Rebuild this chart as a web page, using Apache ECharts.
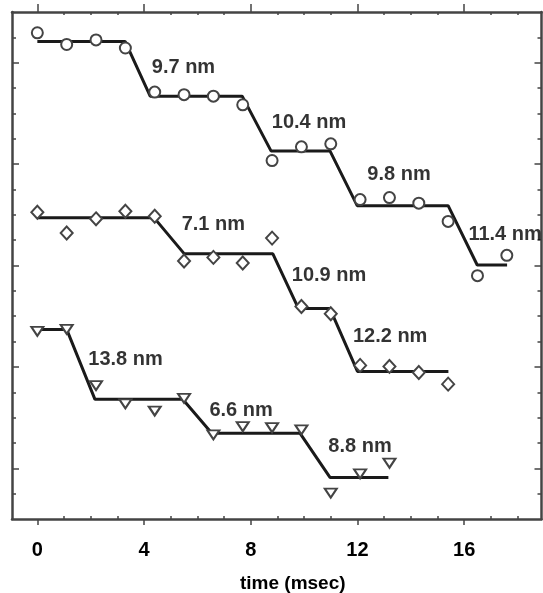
<!DOCTYPE html>
<html>
<head>
<meta charset="utf-8" />
<title>step traces</title>
<script src="https://cdn.jsdelivr.net/npm/echarts@6/dist/echarts.min.js"></script>
<style>
  html, body { margin: 0; padding: 0; background: #fff; }
  #chart { width: 543px; height: 593px; }
</style>
</head>
<body>
<div id="chart"></div>
<script>
// top trace (circles), time in ms and position in nm
var topTime = [0, 1.1, 2.2, 3.3, 4.4, 5.5, 6.6, 7.7, 8.8, 9.9, 11.0, 12.1, 13.2, 14.3, 15.4, 16.5, 17.6];
var topNm = [95.9, 93.6, 94.5, 92.9, 84.2, 83.7, 83.4, 81.7, 70.7, 73.4, 74.0, 63.0, 63.4, 62.3, 58.7, 48.0, 52.0];
var topStepTime = [0, 3.29, 4.23, 7.68, 8.76, 10.97, 11.99, 15.40, 16.49, 17.61];
var topStepNm = [94.2, 94.2, 83.4, 83.4, 72.6, 72.6, 61.8, 61.8, 50.1, 50.1];

// middle trace (diamonds)
var midTime = [0, 1.1, 2.2, 3.3, 4.4, 5.5, 6.6, 7.7, 8.8, 9.9, 11.0, 12.1, 13.2, 14.3, 15.4];
var midNm = [60.5, 56.4, 59.2, 60.7, 59.7, 50.9, 51.6, 50.5, 55.4, 41.9, 40.5, 30.3, 30.1, 28.9, 26.6];
var midStepTime = [0, 4.38, 5.51, 8.83, 9.79, 10.97, 12.0, 15.41];
var midStepNm = [59.4, 59.4, 52.3, 52.3, 41.5, 41.5, 29.1, 29.1];

// bottom trace (triangles)
var botTime = [0, 1.1, 2.2, 3.3, 4.4, 5.5, 6.6, 7.7, 8.8, 9.9, 11.0, 12.1, 13.2];
var botNm = [37.0, 37.4, 26.3, 22.7, 21.3, 23.8, 16.6, 18.2, 18.0, 17.6, 5.1, 8.9, 11.0];
var botStepTime = [0, 1.1, 2.16, 5.45, 6.54, 9.85, 10.97, 13.16];
var botStepNm = [37.4, 37.4, 23.6, 23.6, 16.9, 16.9, 8.2, 8.2];

// step size annotations
var stepLabels = ['9.7 nm', '10.4 nm', '9.8 nm', '11.4 nm', '7.1 nm', '10.9 nm', '12.2 nm', '13.8 nm', '6.6 nm', '8.8 nm'];
var labelTime = [4.29, 8.79, 12.37, 16.16, 5.41, 9.54, 11.83, 1.91, 6.45, 10.91];
var labelNm = [89.0, 78.3, 67.9, 56.2, 58.0, 48.0, 36.0, 31.4, 21.5, 14.3];

// axis ticks
var xMajor = [0, 4, 8, 12, 16];
var xMinor = [1, 2, 3, 5, 6, 7, 9, 10, 11, 13, 14, 15, 17, 18];
var yMajor = [10, 30, 50, 70, 90];
var yMinor = [5, 15, 20, 25, 35, 40, 45, 55, 60, 65, 75, 80, 85, 95];

function pairs(xs, ys) {
  return xs.map(function (x, i) { return [x, ys[i]]; });
}

var font = '"Liberation Sans", Arial, sans-serif';
var boxLine = { show: true, onZero: false, lineStyle: { color: '#444', width: 2.5 } };
var noLine = { show: false, onZero: false };

function xAx(pos, ticks, inside, len, line, labels) {
  return {
    type: 'value', position: pos, min: -0.95, max: 18.9,
    splitLine: { show: false },
    axisLine: line,
    axisTick: { show: true, customValues: ticks, inside: inside, length: len, lineStyle: { color: '#444', width: 1.5 } },
    axisLabel: labels ? {
      show: true, customValues: xMajor, margin: 21,
      fontFamily: font, fontWeight: 'bold', fontSize: 20, color: '#000'
    } : { show: false }
  };
}

function yAx(pos, ticks, len, line) {
  return {
    type: 'value', position: pos, min: 0, max: 100,
    splitLine: { show: false },
    axisLine: line,
    axisTick: { show: true, customValues: ticks, inside: true, length: len, lineStyle: { color: '#444', width: 1.5 } },
    axisLabel: { show: false }
  };
}

var xMain = xAx('bottom', xMajor, false, 6, boxLine, true);
xMain.name = 'time (msec)';
xMain.nameLocation = 'middle';
xMain.nameGap = 55;
xMain.nameTextStyle = { fontFamily: font, fontWeight: 'bold', fontSize: 19, color: '#000', padding: [0, 0, 0, 32] };

var chart = echarts.init(document.getElementById('chart'));

var stepStyle = { color: '#1a1a1a', width: 3 };
var markStyle = { color: '#fff', borderColor: '#444', borderWidth: 2, opacity: 1 };

chart.setOption({
  animation: false,
  backgroundColor: '#fff',
  grid: { left: 12, right: 1.5, top: 12, bottom: 74, containLabel: false, outerBoundsMode: 'none' },
  xAxis: [
    xMain,
    xAx('bottom', xMinor, true, 3, noLine, false),
    xAx('top', xMajor, false, 8, boxLine, false),
    xAx('top', xMinor, true, 3, noLine, false)
  ],
  yAxis: [
    yAx('left', yMajor, 7, boxLine),
    yAx('left', yMinor, 4, noLine),
    yAx('right', yMajor, 7, boxLine),
    yAx('right', yMinor, 4, noLine)
  ],
  series: [
    { type: 'line', data: pairs(topStepTime, topStepNm), symbol: 'none', lineStyle: stepStyle, z: 2 },
    { type: 'line', data: pairs(midStepTime, midStepNm), symbol: 'none', lineStyle: stepStyle, z: 2 },
    { type: 'line', data: pairs(botStepTime, botStepNm), symbol: 'none', lineStyle: stepStyle, z: 2 },
    { type: 'scatter', data: pairs(topTime, topNm), symbol: 'circle', symbolSize: 11, itemStyle: markStyle, z: 3 },
    { type: 'scatter', data: pairs(midTime, midNm), symbol: 'diamond', symbolSize: [12, 13], itemStyle: markStyle, z: 3 },
    { type: 'scatter', data: pairs(botTime, botNm), symbol: 'triangle', symbolRotate: 180, symbolSize: [12, 9], itemStyle: markStyle, z: 3 },
    {
      type: 'scatter', symbolSize: 0, silent: true, z: 4,
      data: labelTime.map(function (t, i) { return { value: [t, labelNm[i]], name: stepLabels[i] }; }),
      label: {
        show: true, position: 'right', distance: 0,
        formatter: '{b}', fontFamily: font, fontWeight: 'bold', fontSize: 20, color: '#000'
      }
    }
  ]
});
</script>
</body>
</html>
